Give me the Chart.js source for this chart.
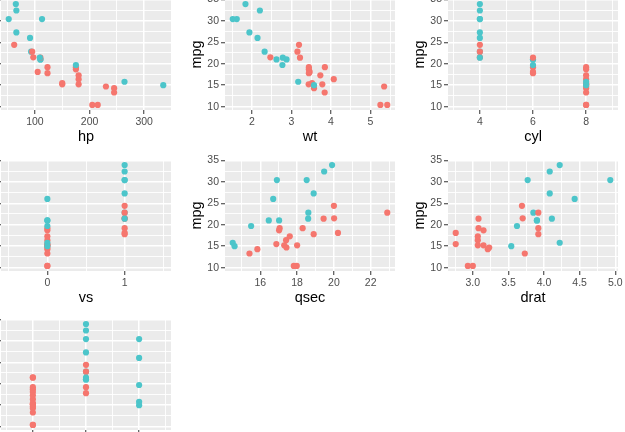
<!DOCTYPE html>
<html>
<head>
<meta charset="utf-8">
<script src="https://cdn.jsdelivr.net/npm/chart.js@4.4.0/dist/chart.umd.min.js"></script>
<style>
  html, body { margin: 0; padding: 0; background: #ffffff; overflow: hidden; }
  #wrap { position: relative; width: 625px; height: 432px; overflow: hidden; }
  canvas { position: absolute; }
</style>
</head>
<body>
<div id="wrap"></div>
<script>
// mtcars, in row order
const mpg = [21.0, 21.0, 22.8, 21.4, 18.7, 18.1, 14.3, 24.4, 22.8, 19.2, 17.8, 16.4, 17.3, 15.2, 10.4, 10.4,
  14.7, 32.4, 30.4, 33.9, 21.5, 15.5, 15.2, 13.3, 19.2, 27.3, 26.0, 30.4, 15.8, 19.7, 15.0, 21.4];
const cyl = [6, 6, 4, 6, 8, 6, 8, 4, 4, 6, 6, 8, 8, 8, 8, 8, 8, 4, 4, 4, 4, 8, 8, 8, 8, 4, 4, 4, 8, 6, 8, 4];
const hp = [110, 110, 93, 110, 175, 105, 245, 62, 95, 123, 123, 180, 180, 180, 205, 215, 230, 66, 52, 65, 97,
  150, 150, 245, 175, 66, 91, 113, 264, 175, 335, 109];
const drat = [3.90, 3.90, 3.85, 3.08, 3.15, 2.76, 3.21, 3.69, 3.92, 3.92, 3.92, 3.07, 3.07, 3.07, 2.93, 3.00,
  3.23, 4.08, 4.93, 4.22, 3.70, 2.76, 3.15, 3.73, 3.08, 4.08, 4.43, 3.77, 4.22, 3.62, 3.54, 4.11];
const wt = [2.620, 2.875, 2.320, 3.215, 3.440, 3.460, 3.570, 3.190, 3.150, 3.440, 3.440, 4.070, 3.730, 3.780,
  5.250, 5.424, 5.345, 2.200, 1.615, 1.835, 2.465, 3.520, 3.435, 3.840, 3.845, 1.935, 2.140, 1.513, 3.170,
  2.770, 3.570, 2.780];
const qsec = [16.46, 17.02, 18.61, 19.44, 17.02, 20.22, 15.84, 20.00, 22.90, 18.30, 18.90, 17.40, 17.60, 18.00,
  17.98, 17.82, 17.42, 19.47, 18.52, 19.90, 20.01, 16.87, 17.30, 15.41, 17.05, 18.90, 16.70, 16.90, 14.50,
  15.50, 14.60, 18.60];
const vs = [0, 0, 1, 1, 0, 1, 0, 1, 1, 1, 1, 0, 0, 0, 0, 0, 0, 1, 1, 1, 1, 0, 0, 0, 0, 1, 0, 1, 0, 0, 0, 1];
const am = [1, 1, 1, 0, 0, 0, 0, 0, 0, 0, 0, 0, 0, 0, 0, 0, 0, 1, 1, 1, 0, 0, 0, 0, 0, 1, 1, 1, 1, 1, 1, 1];
const gear = [4, 4, 4, 3, 3, 3, 3, 4, 4, 4, 4, 3, 3, 3, 3, 3, 3, 4, 4, 4, 3, 3, 3, 3, 3, 4, 5, 5, 5, 5, 5, 4];

// tick labels
const mpgTicks = [10, 15, 20, 25, 30, 35];
const hpTicks = [100, 200, 300];
const wtTicks = [2, 3, 4, 5];
const cylTicks = [4, 6, 8];
const vsTicks = [0, 1];
const qsecTicks = [16, 18, 20, 22];
const dratTicks = [3.0, 3.5, 4.0, 4.5, 5.0];
const gearTicks = [3, 4, 5];

const RED = "#F5766E";
const TEAL = "#4CC5CA";

// panel geometry (page px)
const PW = 170, PH = 111;
const LY = 42, LX = 36, PT = 10, PR = 16;
const colLeft = [1, 224.5, 448];
const rowTop = [-1.3, 159.5, 319];

const panels = [
  { x: hp, name: "hp", ticks: hpTicks, min: 37.85, max: 349.15, col: 0, row: 0 },
  { x: wt, name: "wt", ticks: wtTicks, min: 1.317, max: 5.62, col: 1, row: 0 },
  { x: cyl, name: "cyl", ticks: cylTicks, min: 2.8, max: 9.2, col: 2, row: 0 },
  { x: vs, name: "vs", ticks: vsTicks, min: -0.6, max: 1.6, col: 0, row: 1 },
  { x: qsec, name: "qsec", ticks: qsecTicks, min: 14.08, max: 23.32, col: 1, row: 1 },
  { x: drat, name: "drat", ticks: dratTicks, min: 2.6515, max: 5.0385, col: 2, row: 1, fixed: 1 },
  { x: gear, name: "gear", ticks: gearTicks, min: 2.4, max: 5.6, col: 0, row: 2 },
];

// majors plus the midpoints between them (and one half step past each end)
function withMinors(majors, min, max) {
  const step = majors[1] - majors[0];
  const out = [];
  for (let v = majors[0] - step / 2; v <= majors[majors.length - 1] + step / 2 + 1e-9; v += step / 2) {
    if (v >= min && v <= max) out.push(+v.toFixed(4));
  }
  return out;
}

const isMajor = (majors, v) => majors.some((m) => Math.abs(m - v) < 1e-6);

const panelBg = {
  id: "panelBg",
  beforeDraw(chart) {
    const { ctx, chartArea: a } = chart;
    ctx.save();
    ctx.fillStyle = "#EBEBEB";
    ctx.fillRect(a.left, a.top, a.right - a.left, a.bottom - a.top);
    ctx.restore();
  },
};

function axisOpts(majors, min, max, title, fixed, isX) {
  return {
    type: "linear",
    min: min,
    max: max,
    border: { display: false },
    afterBuildTicks: (s) => {
      s.ticks = withMinors(majors, min, max).map((v) => ({ value: v }));
    },
    afterFit: (s) => {
      if (isX) s.height = LX;
      else s.width = LY;
    },
    grid: {
      color: "#FFFFFF",
      lineWidth: (c) => (c.tick && isMajor(majors, c.tick.value) ? 1.5 : 0.9),
      tickColor: (c) => (c.tick && isMajor(majors, c.tick.value) ? "#333333" : "rgba(0,0,0,0)"),
      tickWidth: 1,
      tickLength: 4,
    },
    ticks: {
      autoSkip: false,
      maxRotation: 0,
      padding: isX ? 2 : 2,
      color: "#4D4D4D",
      font: { family: "'Liberation Sans', Arial, sans-serif", size: 10.5 },
      callback: (v) => (isMajor(majors, v) ? (fixed ? v.toFixed(fixed) : String(v)) : ""),
    },
    title: {
      display: true,
      text: title,
      color: "#000000",
      font: { family: "'Liberation Sans', Arial, sans-serif", size: 14.5 },
      padding: isX ? { top: 1, bottom: 0 } : { top: 5.5, bottom: 0 },
    },
  };
}

const wrap = document.getElementById("wrap");

panels.forEach((p) => {
  const canvas = document.createElement("canvas");
  const w = LY + PW + PR;
  const h = PT + PH + LX;
  canvas.width = w;
  canvas.height = h;
  canvas.style.width = w + "px";
  canvas.style.height = h + "px";
  canvas.style.left = colLeft[p.col] - LY + "px";
  canvas.style.top = rowTop[p.row] - PT + "px";
  wrap.appendChild(canvas);

  new Chart(canvas.getContext("2d"), {
    type: "scatter",
    data: {
      datasets: [
        {
          data: p.x.map((v, i) => ({ x: v, y: mpg[i] })),
          pointBackgroundColor: am.map((a) => (a ? TEAL : RED)),
          pointBorderWidth: 0,
          pointRadius: 3.1,
          pointHoverRadius: 3.1,
        },
      ],
    },
    options: {
      responsive: false,
      animation: false,
      layout: { padding: { top: PT, right: PR, left: 0, bottom: 0 } },
      plugins: { legend: { display: false }, tooltip: { enabled: false } },
      scales: {
        x: axisOpts(p.ticks, p.min, p.max, p.name, p.fixed, true),
        y: axisOpts(mpgTicks, 9.225, 35.075, "mpg", 0, false),
      },
    },
    plugins: [panelBg],
  });
});
</script>
</body>
</html>
